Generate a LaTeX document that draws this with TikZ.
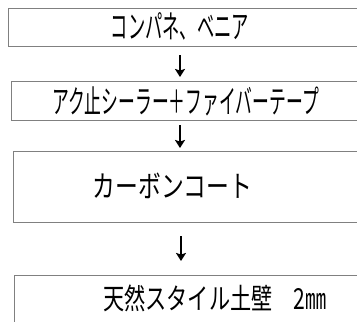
\documentclass[tikz,border=0pt]{standalone}
\usepackage{fontspec}
\newfontfamily\jpa[FakeStretch=0.54]{Noto Sans CJK JP}
\newfontfamily\jpd[FakeStretch=0.525]{Noto Sans CJK JP}
\newfontfamily\jpb[FakeStretch=0.76]{Noto Sans CJK JP}
\newfontfamily\jpc[FakeStretch=0.73]{Noto Sans CJK JP}
\usetikzlibrary{arrows.meta}
\begin{document}
\begin{tikzpicture}[x=1pt,y=-1pt,
  boxstyle/.style={draw=black!50,line width=1pt,rectangle,inner sep=0pt,anchor=north west},
  lbl/.style={inner sep=0pt,text=black},
  arr/.style={line width=2pt,-{Stealth[length=8pt,width=10pt,inset=1.5pt]}}]
\useasboundingbox (0,0) rectangle (357,322);
\clip (0,0) rectangle (357,322);
\node[boxstyle,minimum width=370pt,minimum height=38pt] (b1) at (8,8) {};
\node[boxstyle,minimum width=370pt,minimum height=39pt] (b2) at (11,81) {};
\node[boxstyle,minimum width=370pt,minimum height=71pt] (b3) at (13,151) {};
\node[boxstyle,minimum width=370pt,minimum height=71pt] (b4) at (14,275) {};
\node[lbl,font=\jpa\fontsize{32}{36}\selectfont] (t1) at (180,26.5) {コンパネ、ベニア};
\node[lbl,font=\jpd\fontsize{32}{36}\selectfont] (t2) at (185.5,101) {アク止シーラー＋ファイバーテープ};
\node[lbl,font=\jpb\fontsize{30}{34}\selectfont] (t3) at (172.5,186) {カーボンコート};
\node[lbl,font=\jpc\fontsize{29}{33}\selectfont] (t4) at (215,298.5) {天然スタイル土壁　2㎜};
\coordinate (ax) at (180,0);
\coordinate (ay) at (181,0);
\draw[arr,shorten <=8pt,shorten >=4pt] (b1.south -| ax) -- (b2.north -| ax);
\draw[arr,shorten <=4pt,shorten >=3pt] (b2.south -| ax) -- (b3.north -| ax);
\draw[arr,shorten <=13pt,shorten >=14pt] (b3.south -| ay) -- (b4.north -| ay);
\end{tikzpicture}
\end{document}
